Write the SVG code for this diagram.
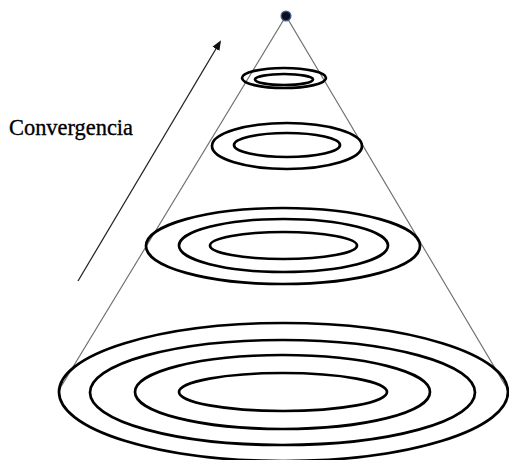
<svg xmlns="http://www.w3.org/2000/svg" width="509" height="460" viewBox="0 0 509 460">
<style>
.ring{fill:none;stroke:#000;stroke-width:2.7}
.cone{stroke:#6e6e6e;stroke-width:1.2;fill:none}
.lbl{font-family:"Liberation Serif","Times New Roman",serif;font-size:24px;fill:#000;stroke:#000;stroke-width:0.35}
</style>
<defs>
<marker id="ah" markerWidth="10" markerHeight="10" refX="8" refY="5" orient="auto" markerUnits="userSpaceOnUse">
<path d="M0,1 L10,5 L0,9 Z" fill="#111"/>
</marker>
</defs>
<rect width="509" height="460" fill="#fff"/>
<g id="connectors">
<line class="cone" x1="286" y1="16" x2="59" y2="390"/>
<line class="cone" x1="286" y1="16" x2="508" y2="390"/>
<line x1="78" y1="281" x2="220" y2="42" stroke="#222" stroke-width="1.3" marker-end="url(#ah)"/>
</g>
<g id="apex">
<circle cx="286" cy="16" r="4.8" fill="#0c0f1e" stroke="#3d5a8a" stroke-width="1.4"/>
</g>
<g id="level1">
<ellipse class="ring" cx="284" cy="78" rx="42" ry="10"/>
<ellipse class="ring" cx="284" cy="79.5" rx="29" ry="5.5"/>
</g>
<g id="level2">
<ellipse class="ring" cx="287" cy="146" rx="75" ry="23"/>
<ellipse class="ring" cx="287" cy="145" rx="53" ry="12"/>
</g>
<g id="level3">
<ellipse class="ring" cx="283" cy="246" rx="137" ry="38"/>
<ellipse class="ring" cx="283.5" cy="245.5" rx="104.5" ry="26.5"/>
<ellipse class="ring" cx="283.5" cy="245.5" rx="73.5" ry="13.5"/>
</g>
<g id="level4">
<ellipse class="ring" cx="283.5" cy="392" rx="224.5" ry="69"/>
<ellipse class="ring" cx="282.5" cy="392.5" rx="192.5" ry="52.5"/>
<ellipse class="ring" cx="282.5" cy="392" rx="147.5" ry="37"/>
<ellipse class="ring" cx="283" cy="392" rx="104" ry="19"/>
</g>
<g id="label">
<text class="lbl" x="9" y="135" textLength="124" lengthAdjust="spacingAndGlyphs">Convergencia</text>
</g>
</svg>
